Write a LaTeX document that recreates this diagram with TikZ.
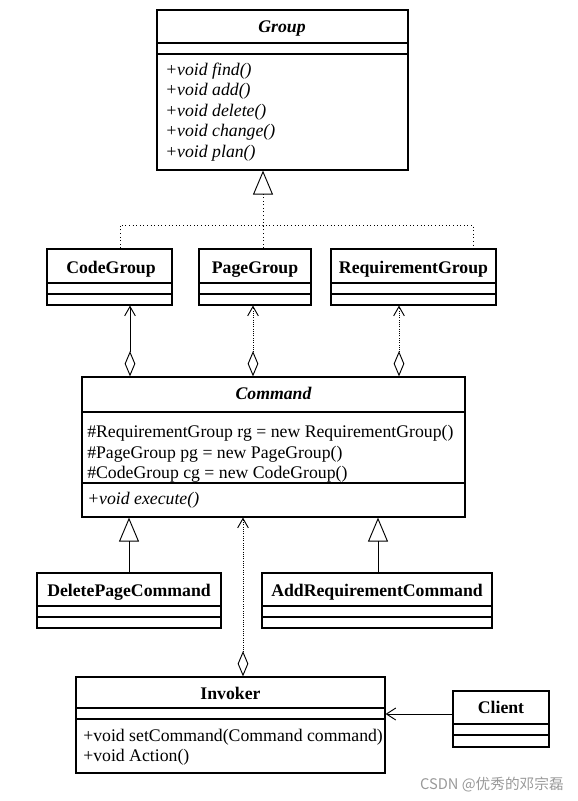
\documentclass[tikz,border=0pt]{standalone}
\usepackage{fontspec}
\setmainfont{Liberation Serif}
\newfontfamily\cjkfont{Noto Sans CJK SC}
\usetikzlibrary{arrows.meta,fit}

\tikzset{
  title/.style={font=\fontsize{13.3}{15.4}\selectfont\bfseries,anchor=base},
  member/.style={font=\fontsize{13.3}{15.4}\selectfont,align=left,anchor=west},
  inherit/.style={-{Triangle[open,length=18pt,width=15pt]}},
  aggr/.style={{Diamond[open,length=19pt,width=8pt]}-{Straight Barb[length=7pt,width=8pt]}},
}
\newcommand{\splitline}[2]{\draw[line width=0.9pt] (#1.west |- 0,#2) -- (#1.east |- 0,#2);}

\begin{document}
\begin{tikzpicture}[x=0.75pt,y=-0.75pt]
        \useasboundingbox (0,0) rectangle (578,801);

        % class boxes
        \begin{scope}[every node/.style={draw,line width=0.9pt,inner sep=0pt}]
            \node[fit={(157,10) (408,170)}] (group) {};
            \node[fit={(47,249) (172,305)}] (codegrp) {};
            \node[fit={(199,249) (311,305)}] (pagegrp) {};
            \node[fit={(331,249) (496,305)}] (reqgrp) {};
            \node[fit={(82,377) (465,517)}] (command) {};
            \node[fit={(37,573) (221,628)}] (delcmd) {};
            \node[fit={(262,573) (492,628)}] (addcmd) {};
            \node[fit={(76,677) (385,773)}] (invoker) {};
            \node[fit={(453,691) (549,747)}] (client) {};
        \end{scope}
        \splitline{group}{43} \splitline{group}{54}
        \splitline{codegrp}{283} \splitline{codegrp}{294}
        \splitline{pagegrp}{283} \splitline{pagegrp}{294}
        \splitline{reqgrp}{283} \splitline{reqgrp}{294}
        \splitline{command}{412} \splitline{command}{483}
        \splitline{delcmd}{606} \splitline{delcmd}{617}
        \splitline{addcmd}{606} \splitline{addcmd}{617}
        \splitline{invoker}{708} \splitline{invoker}{719}
        \splitline{client}{724} \splitline{client}{735}

        % names and members
        \begin{scope}[every node/.style={inner sep=0pt}]
            \node[title] (grouptxt) at (282,32) {\itshape Group};
            \node[member] (groupops) at (165,112) {\itshape +void find()\\\itshape +void add()\\\itshape +void delete()\\\itshape +void change()\\\itshape +void plan()};
            \node[title] (codetxt) at (111,273) {CodeGroup};
            \node[title] (pagetxt) at (255,273) {PageGroup};
            \node[title] (reqtxt) at (413.5,273) {RequirementGroup};
            \node[title] (cmdtxt) at (273.5,399) {\itshape Command};
            \node[member] (cmdattr) at (87,454) {\#RequirementGroup rg = new RequirementGroup()\\\#PageGroup pg = new PageGroup()\\\#CodeGroup cg = new CodeGroup()};
            \node[member] (cmdops) at (87,500) {\itshape +void execute()};
            \node[title] (deltxt) at (129,596) {DeletePageCommand};
            \node[title] (addtxt) at (377,596) {AddRequirementCommand};
            \node[title] (invtxt) at (230.5,699) {Invoker};
            \node[member] (invops) at (83,747) {+void setCommand(Command command)\\+void Action()};
            \node[title] (clitxt) at (501,713) {Client};
            \node[anchor=east,text=black!40,font=\cjkfont\fontsize{11}{13}\selectfont] (mark) at (564,785) {CSDN @优秀的邓宗磊};
        \end{scope}

        % relations
        \begin{scope}[every path/.style={line width=0.7pt}]
            \coordinate (jn) at (263,225);
            \draw[dotted] (codegrp.north -| 120,0) |- (jn) -| (reqgrp.north -| 473,0);
            \draw[dotted,inherit] (pagegrp.north -| 263,0) -- (group.south -| 263,0);
            \draw[aggr] (command.north -| 130,0) -- (codegrp.south -| 130,0);
            \draw[densely dotted,aggr] (command.north -| 253,0) -- (pagegrp.south -| 253,0);
            \draw[densely dotted,aggr] (command.north -| 399,0) -- (reqgrp.south -| 399,0);
            \draw[inherit] (delcmd.north -| 129,0) -- (command.south -| 129,0);
            \draw[inherit] (addcmd.north -| 378,0) -- (command.south -| 378,0);
            \draw[densely dotted,aggr] (invoker.north -| 243,0) -- (command.south -| 243,0);
            \draw[-{Straight Barb[length=7pt,width=9pt]}] (client.west |- 0,714) -- (invoker.east |- 0,714);
        \end{scope}
\end{tikzpicture}
\end{document}
